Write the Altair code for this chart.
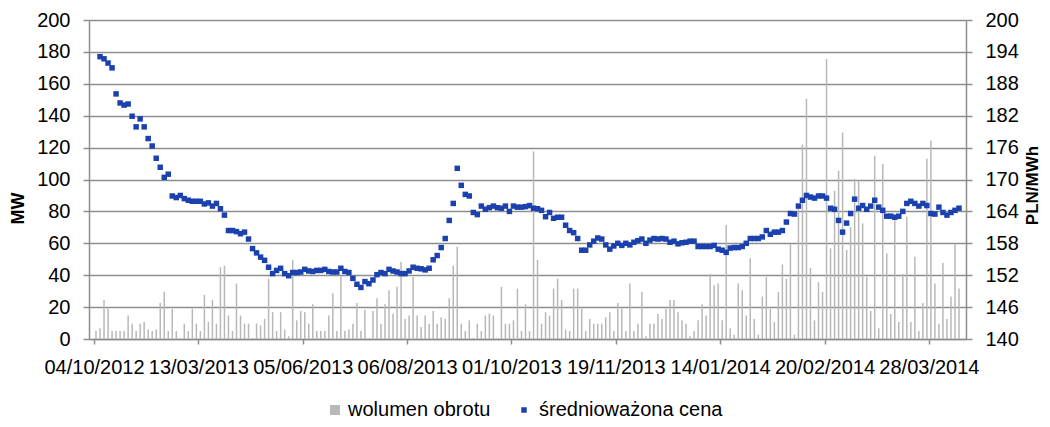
import altair as alt
import pandas as pd

# ---- data ----
x_labels = ["04/10/2012", "13/03/2013", "05/06/2013", "06/08/2013", "01/10/2013",
            "19/11/2013", "14/01/2014", "20/02/2014", "28/03/2014"]
label_step = 26
n_cat = 216

volume = [
    5.0, 6.7, 24.5, 18.9, 5, 5, 5, 5, 14.7, 9.6,
    5, 9.6, 10.7, 5.9, 5, 5.9, 22.6, 29.6, 5, 18.9,
    5, 0.4, 9.6, 5, 18.9, 9.6, 5, 27.7, 10.7, 24.5,
    9.6, 44.9, 45.9, 14.7, 5, 34.8, 14.7, 9.6, 9.6, 0.4,
    9.6, 8.6, 12.6, 37.7, 16.8, 5, 16.8, 5.9, 1.7, 49.5,
    11.7, 17.6, 16.8, 9.6, 21.8, 5, 5, 5, 14.7, 28.7,
    5, 39.8, 5, 5.9, 9.6, 22.6, 5, 18.4, 0.4, 17.6,
    25.6, 9.6, 21.8, 30.6, 15.9, 32.7, 48.4, 12.6, 14.7, 38.8,
    14.7, 7.5, 14.7, 9.6, 17.6, 9.6, 13.6, 12.6, 25.6, 45.9,
    57.9, 9.6, 5, 11.7, 0.4, 9.6, 5, 14.7, 15.9, 14.7,
    0.4, 32.7, 9.6, 9.6, 11.7, 31.6, 5, 21.8, 5, 117.6,
    49.5, 9.6, 16.8, 14.7, 31.6, 37.7, 24.5, 5.9, 5, 31.6,
    31.6, 18.9, 5, 12.6, 9.6, 9.6, 9.6, 13.6, 16.8, 5,
    22.6, 18.9, 5, 34.8, 5, 9.6, 29.6, 1.7, 9.6, 9.6,
    15.7, 12.6, 18.9, 24.5, 24.5, 16.8, 11.7, 9.6, 1.7, 5,
    11.7, 21.8, 14.7, 40.7, 33.7, 34.8, 11.7, 71.5, 6.7, 2.7,
    34.8, 30.6, 14.7, 50.7, 12.6, 2.7, 26.6, 38.8, 18.9, 10.7,
    29.6, 46.7, 37.7, 59.7, 2.7, 82, 122, 150.7, 44.6, 11.7,
    35.6, 29.6, 175.6, 56.8, 92.9, 105.6, 129.5, 55.8, 70.4, 100.4,
    99.4, 72.5, 39, 17.6, 114.9, 6.7, 109.8, 53.7, 15.7, 76.7,
    10.7, 40.7, 76.7, 10.7, 51.6, 5, 22.6, 113, 124.5, 34.8,
    9.6, 47.6, 12.6, 26.6, 59.7, 31.6,
]

price = [
    None, 193.1, 192.7, 191.9, 191.0, 186.1, 184.4, 184.0, 184.2, 181.9,
    179.9, 181.4, 179.9, 177.7, 176.3, 174.0, 172.3, 170.4, 171.0, 166.9,
    166.6, 167.0, 166.4, 166.1, 165.9, 165.9, 165.9, 165.4, 165.6, 165.0,
    165.5, 164.5, 163.3, 160.4, 160.4, 160.2, 159.8, 160.1, 158.8, 157.0,
    156.2, 155.4, 154.8, 153.5, 152.3, 152.9, 153.3, 152.3, 151.9, 152.5,
    152.5, 152.6, 153.1, 152.8, 152.7, 152.9, 152.9, 153.1, 152.7, 152.6,
    152.6, 153.3, 152.7, 152.5, 151.4, 150.3, 149.7, 150.8, 150.4, 151.1,
    152.1, 152.5, 152.3, 153.1, 152.8, 152.6, 152.3, 152.3, 152.8, 153.5,
    153.3, 153.2, 153.0, 153.3, 154.9, 155.7, 157.2, 158.9, 162.3, 165.5,
    172.1, 168.9, 167.2, 166.9, 163.8, 163.4, 165.0, 164.4, 164.7, 165.0,
    164.7, 164.6, 165.0, 164.0, 165.0, 164.8, 164.8, 164.9, 165.1, 164.6,
    164.5, 164.2, 163.0, 163.8, 162.7, 162.9, 162.9, 161.4, 160.4, 160.0,
    158.9, 156.7, 156.7, 157.7, 158.4, 159.0, 158.8, 157.7, 156.9, 157.5,
    158.0, 157.6, 158.0, 157.7, 158.2, 158.5, 158.8, 158.0, 158.6, 158.9,
    158.8, 158.9, 158.8, 158.2, 158.4, 157.9, 158.1, 158.2, 158.4, 158.4,
    157.4, 157.4, 157.4, 157.4, 157.6, 156.9, 156.7, 156.3, 157.1, 157.2,
    157.2, 157.4, 158.0, 158.9, 158.9, 158.9, 159.2, 160.4, 159.7, 160.1,
    160.1, 160.4, 162.0, 163.6, 163.5, 165.0, 166.1, 167.0, 166.7, 166.5,
    166.9, 166.9, 166.5, 164.6, 164.4, 162.3, 160.1, 161.8, 163.6, 166.3,
    164.6, 165.1, 164.4, 165.0, 166.1, 164.8, 164.2, 163.1, 163.1, 162.9,
    163.1, 164.0, 165.5, 165.9, 165.5, 165.0, 165.5, 165.1, 163.6, 163.5,
    164.8, 163.8, 163.3, 163.8, 164.2, 164.6,
]

vol_ticks = list(range(0, 201, 20))
price_ticks = list(range(140, 201, 6))
vol_name = "wolumen obrotu"
price_name = "średnioważona cena"

df = pd.DataFrame({"cat": list(range(n_cat)), "vol": volume, "price": price})

FONT = "Liberation Sans"
GRID = "#8e8e8e"
BAR = "#b8b8b8"
BLUE = "#1a41ad"

label_expr = "[" + ",".join("'" + s + "'" for s in x_labels) + "][round(datum.value/%d)]" % label_step

x_enc = alt.X(
    "pos:Q",
    scale=alt.Scale(domain=[0, n_cat], nice=False, zero=False),
    axis=alt.Axis(
        values=[i * label_step for i in range(len(x_labels))],
        labelExpr=label_expr,
        title=None,
        grid=False,
        tickSize=5,
        labelPadding=13,
        labelFlush=False,
        labelOverlap=False,
        labelBaseline="top",
    ),
)

base = alt.Chart(df).transform_calculate(pos="datum.cat + 0.5")

bars = base.transform_calculate(series="'" + vol_name + "'").mark_bar(size=1.5).encode(
    x=x_enc,
    y=alt.Y(
        "vol:Q",
        scale=alt.Scale(domain=[0, 200], nice=False),
        axis=alt.Axis(
            values=vol_ticks,
            grid=True,
            gridColor=GRID,
            gridWidth=1.3,
            tickSize=6,
            labelPadding=13,
            title="MW",
            titleFontSize=18,
            titleAngle=-90,
            titleX=-71,
            titleY=188,
            titleAlign="center",
            titleBaseline="middle",
        ),
    ),
    color=alt.Color(
        "series:N",
        scale=alt.Scale(domain=[vol_name], range=[BAR]),
        legend=alt.Legend(
            orient="none", legendX=236, legendY=380, title=None,
            symbolType="square", symbolSize=100, symbolStrokeWidth=0,
            labelFontSize=20, labelFont=FONT, labelColor="#000000", labelOffset=3,
            labelLimit=400, padding=0,
        ),
    ),
)

points = base.transform_filter("isValid(datum.price)").transform_calculate(
    series2="'" + price_name + "'"
).mark_square(size=30, opacity=1).encode(
    x=x_enc,
    y=alt.Y(
        "price:Q",
        scale=alt.Scale(domain=[140, 200], nice=False, zero=False),
        axis=alt.Axis(
            orient="right",
            values=price_ticks,
            grid=False,
            tickSize=6,
            labelPadding=13,
            title="PLN/MWh",
            titleFontSize=17,
            titleAngle=-90,
            titleX=66,
            titleY=165,
            titleAlign="center",
            titleBaseline="middle",
        ),
    ),
    color=alt.Color(
        "series2:N",
        scale=alt.Scale(domain=[price_name], range=[BLUE]),
        legend=alt.Legend(
            orient="none", legendX=425, legendY=380, title=None,
            symbolType="square", symbolSize=30, symbolStrokeWidth=0,
            labelFontSize=20, labelFont=FONT, labelColor="#000000", labelOffset=5,
            labelLimit=400, padding=0,
        ),
    ),
)

chart = (
    alt.layer(bars, points)
    .resolve_scale(y="independent", color="independent")
    .properties(
        width=877,
        height=319,
        autosize=alt.AutoSizeParams(type="none"),
        padding={"left": 81, "top": 12, "right": 76, "bottom": 80},
    )
    .configure_view(stroke="transparent")
    .configure_axis(
        labelFont=FONT,
        labelFontSize=20,
        labelColor="#000000",
        titleFont=FONT,
        titleFontSize=20,
        titleFontWeight="bold",
        titleColor="#000000",
        domainColor=GRID,
        domainWidth=1.5,
        tickColor=GRID,
        tickWidth=1.5,
    )
)

chart.save("out.html", embed_options={"renderer": "svg", "actions": False})
